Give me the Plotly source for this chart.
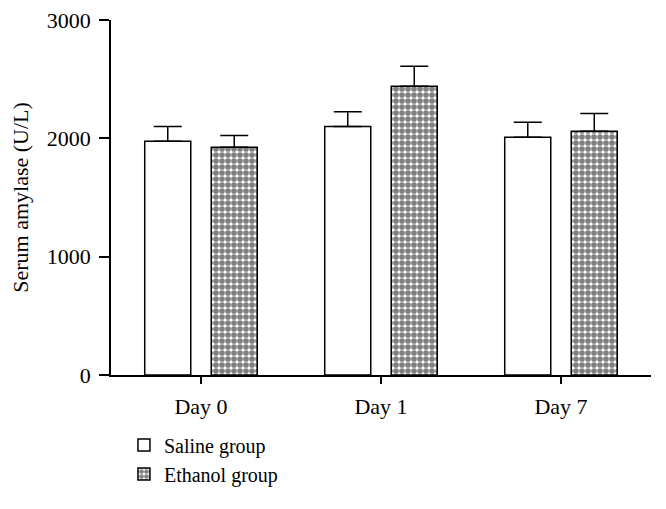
import plotly.graph_objects as go

days = ["Day 0", "Day 1", "Day 7"]
saline = [1975, 2100, 2010]
saline_err = [125, 125, 125]
ethanol = [1925, 2440, 2060]
ethanol_err = [100, 170, 150]

font = "Liberation Serif, Times New Roman, serif"
fs = 22

fig = go.Figure()
fig.add_trace(go.Bar(
    x=days, y=saline, name="Saline group",
    marker=dict(color="white", line=dict(color="black", width=1.5)),
    error_y=dict(type="data", array=saline_err, arrayminus=[0, 0, 0], symmetric=False,
                 color="black", thickness=1.5, width=14),
))
fig.add_trace(go.Bar(
    x=days, y=ethanol, name="Ethanol group",
    marker=dict(color="white", line=dict(color="black", width=1.5),
                pattern=dict(shape=".", fgcolor="black", bgcolor="white", size=6, solidity=0.7)),
    error_y=dict(type="data", array=ethanol_err, arrayminus=[0, 0, 0], symmetric=False,
                 color="black", thickness=1.5, width=14),
))

fig.update_layout(
    width=650, height=493,
    margin=dict(l=103, r=7, t=12, b=121),
    plot_bgcolor="white", paper_bgcolor="white",
    barmode="group", bargap=0.261, bargroupgap=0.308,
    font=dict(family=font, size=fs, color="black"),
    showlegend=True,
    legend=dict(x=0.024, xanchor="left", y=-0.334, yanchor="bottom",
                font=dict(family=font, size=20), tracegroupgap=0,
                bgcolor="rgba(0,0,0,0)"),
    xaxis=dict(showline=True, linecolor="black", linewidth=1.5, automargin=False,
               ticks="outside", ticklen=7, tickwidth=1.5, tickcolor="black",
               ticklabelstandoff=4,
               range=[-0.5, 2.5], tickfont=dict(family=font, size=fs)),
    yaxis=dict(showline=True, linecolor="black", linewidth=1.5, automargin=False,
               ticks="outside", ticklen=10, tickwidth=1.5, tickcolor="black",
               ticklabelstandoff=4, ticklabeloverflow="allow",
               range=[0, 3000], tickvals=[0, 1000, 2000, 3000], showgrid=False,
               zeroline=False, tickfont=dict(family=font, size=fs),
               title=dict(text="Serum amylase (U/L)", font=dict(family=font, size=fs), standoff=20)),
)

fig.write_html("out.html")
